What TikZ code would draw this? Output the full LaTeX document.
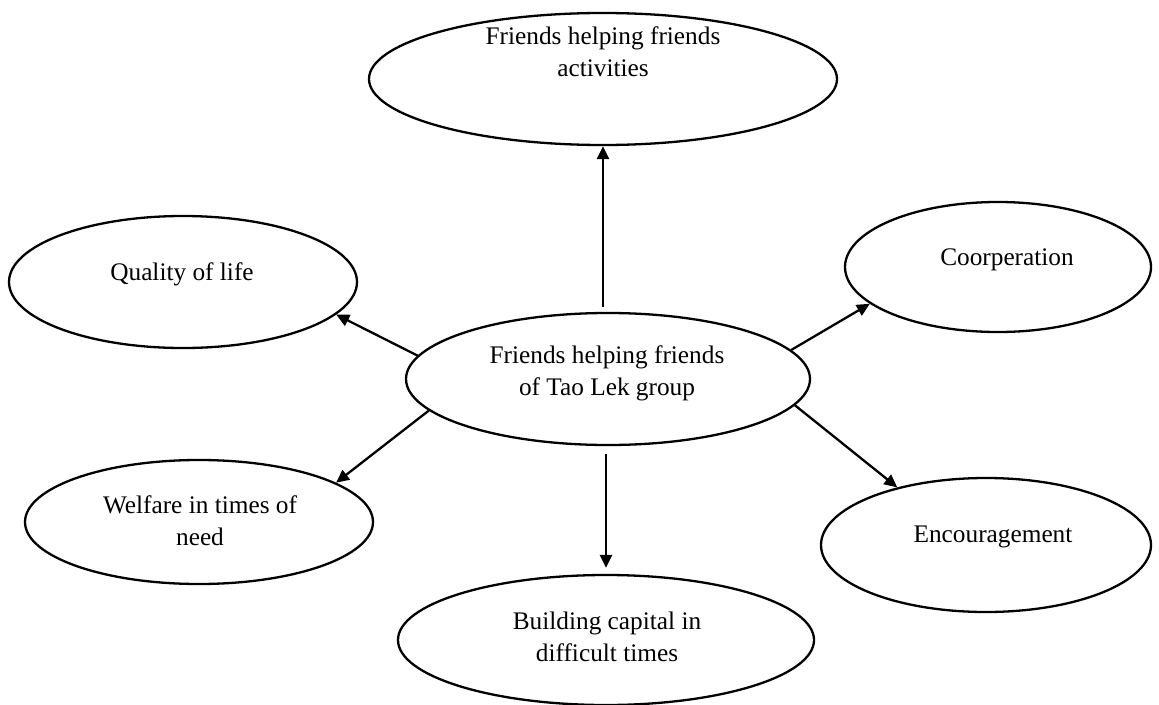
\documentclass[tikz,border=0pt]{standalone}
\usepackage{fontspec}
\setmainfont{Liberation Serif}
\usetikzlibrary{shapes.geometric,arrows.meta}
\begin{document}
\begin{tikzpicture}[x=1pt,y=-1pt,
  oval/.style={draw, ellipse, line width=2.3pt, inner sep=0pt},
  lbl/.style={font=\fontsize{25.3}{32}\selectfont, align=center, inner sep=0pt},
  arr/.style={line width=2.3pt, -{Triangle[length=13pt,width=12pt]}}]
\useasboundingbox (0,0) rectangle (1159,704);
% ellipses
\node[oval, minimum width=468pt, minimum height=132pt] (t) at (603,79) {};
\node[oval, minimum width=404pt, minimum height=132pt] (c) at (608,379) {};
\node[oval, minimum width=348pt, minimum height=132pt] (q) at (183,282) {};
\node[oval, minimum width=306pt, minimum height=130pt] (r) at (998,267) {};
\node[oval, minimum width=348pt, minimum height=124pt] (w) at (199,522) {};
\node[oval, minimum width=330pt, minimum height=134pt] (e) at (986,545) {};
\node[oval, minimum width=416pt, minimum height=130pt] (b) at (606,640) {};
% texts
\node[lbl] (tt) at (603,52) {Friends helping friends\\activities};
\node[lbl] (ct) at (607,373) {Friends helping friends\\of Tao Lek group};
\node[lbl] (qt) at (182,274) {Quality of life};
\node[lbl] (rt) at (1007,260) {Coorperation};
\node[lbl] (wt) at (200,521) {Welfare in times of\\need};
\node[lbl] (et) at (993,537) {Encouragement};
\node[lbl] (bt) at (607,637) {Building capital in\\difficult times};
% arrows
\draw[arr, shorten <=5pt] (c.north -| t.south) -- (t.south);
\draw[arr, shorten <=8pt, shorten >=6pt] (c.south -| b.north) -- (b.north);
\draw[arr] (c.173.8) -- (q.-12.6);
\draw[arr] (c.9.8) -- (r.-164.8);
\draw[arr] (c.-8) -- (e.147.8);
\draw[arr] (c.190.6) -- (w.16);
\end{tikzpicture}
\end{document}
